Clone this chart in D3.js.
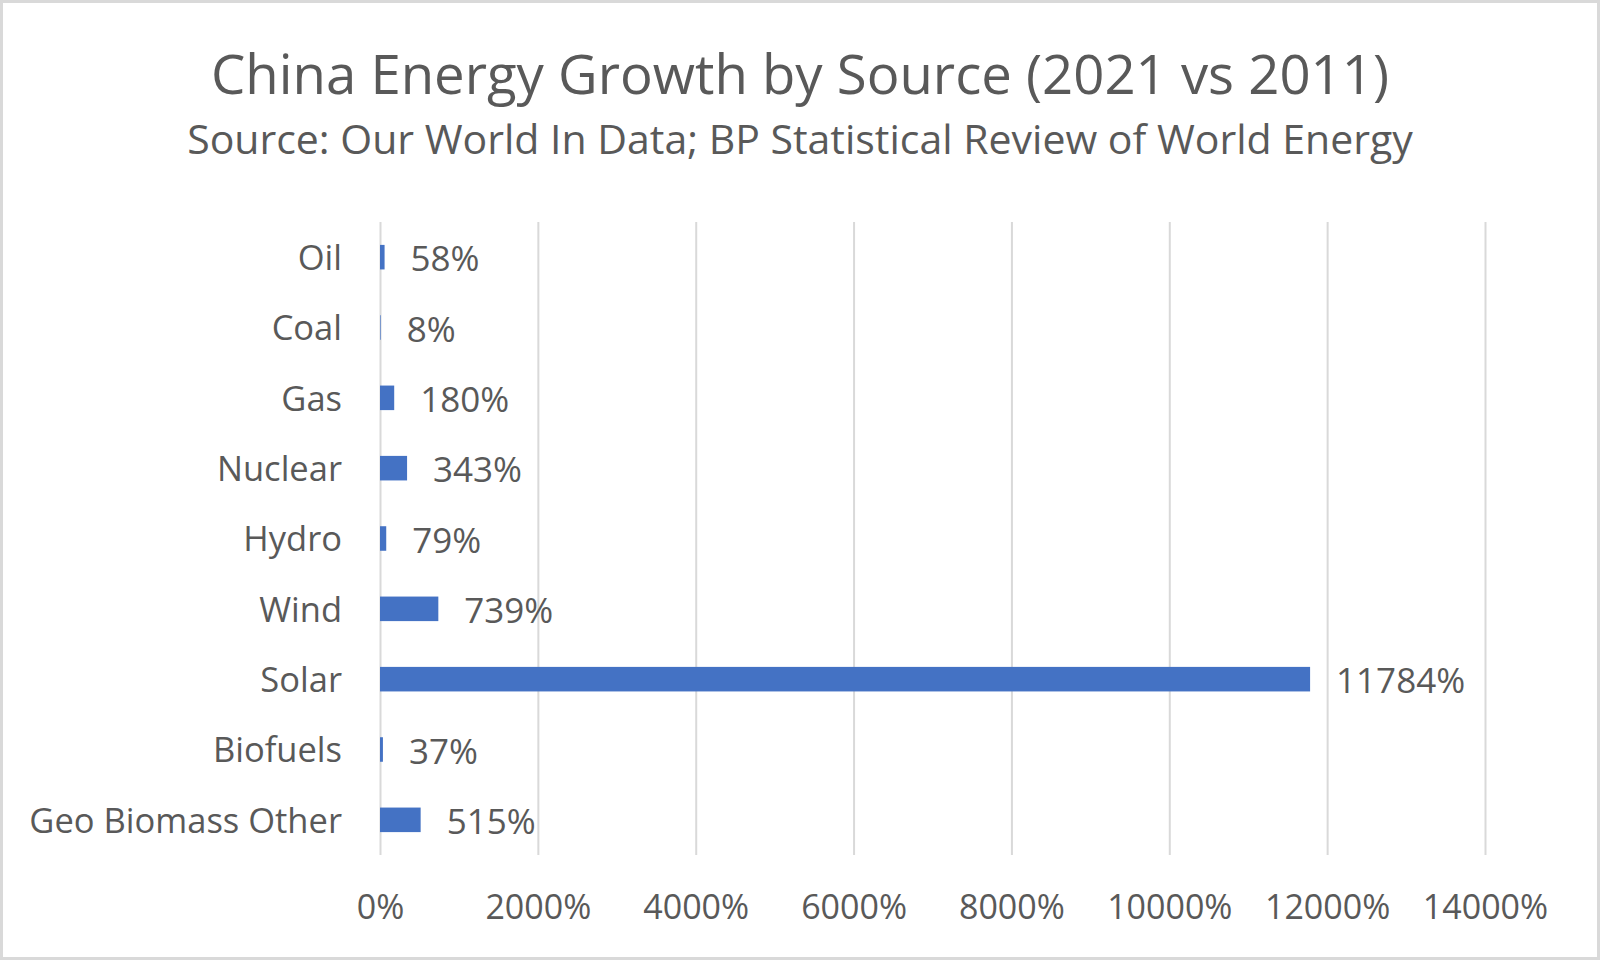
<!DOCTYPE html>
<meta charset="utf-8">
<style>
body { margin: 0; background: #fff; }
text { font-family: "Open Sans", sans-serif; fill: #595959; }
.axis .domain { display: none; }
.grid line { stroke: #d9d9d9; stroke-width: 2px; }
.bar { fill: #4472c4; }
</style>
<svg width="1600" height="960"></svg>
<script src="https://cdn.jsdelivr.net/npm/d3@7"></script>
<script>
var categories = ["Oil", "Coal", "Gas", "Nuclear", "Hydro", "Wind", "Solar", "Biofuels", "Geo Biomass Other"];
var growth = [58, 8, 180, 343, 79, 739, 11784, 37, 515];
var tickValues = [0, 2000, 4000, 6000, 8000, 10000, 12000, 14000];

var svg = d3.select("svg"),
    width = +svg.attr("width"),
    height = +svg.attr("height"),
    plot = {top: 222, bottom: 855, left: 380, right: 1485};

// outer frame
svg.append("rect")
    .attr("x", 1.5).attr("y", 1.5)
    .attr("width", width - 3).attr("height", height - 3)
    .attr("fill", "#fff")
    .attr("stroke", "#d9d9d9")
    .attr("stroke-width", 3);

svg.append("text")
    .attr("x", width / 2).attr("y", 94)
    .attr("text-anchor", "middle")
    .style("font-size", "54.5px")
    .text("China Energy Growth by Source (2021 vs 2011)");

svg.append("text")
    .attr("x", width / 2).attr("y", 154)
    .attr("text-anchor", "middle")
    .style("font-size", "41px")
    .text("Source: Our World In Data; BP Statistical Review of World Energy");

var x = d3.scaleLinear()
    .domain([0, 14000])
    .range([plot.left, plot.right]);

var y = d3.scaleBand()
    .domain(categories)
    .range([plot.top, plot.bottom])
    .paddingInner(0.651)
    .paddingOuter(0.3255);

// gridlines + value axis labels
svg.append("g")
    .attr("class", "axis grid")
    .attr("transform", "translate(0," + plot.bottom + ")")
    .call(d3.axisBottom(x)
        .tickValues(tickValues)
        .tickSize(-(plot.bottom - plot.top))
        .tickPadding(40)
        .tickFormat(function(d) { return d + "%"; }))
  .selectAll("text")
    .style("font-size", "34px")
    .attr("fill", null);

// category labels
var yAxis = svg.append("g")
    .attr("class", "axis")
    .attr("transform", "translate(" + plot.left + ",0)")
    .call(d3.axisLeft(y).tickSize(0).tickPadding(38));
yAxis.selectAll("line").remove();
yAxis.selectAll("text")
    .style("font-size", "34.5px")
    .attr("fill", null)
    .attr("dy", "0.37em");

var rows = categories.map(function(c, i) { return {name: c, value: growth[i]}; });

svg.append("g").selectAll("rect")
    .data(rows)
  .enter().append("rect")
    .attr("class", "bar")
    .attr("x", x(0))
    .attr("y", function(d) { return y(d.name); })
    .attr("width", function(d) { return x(d.value) - x(0); })
    .attr("height", y.bandwidth());

svg.append("g").selectAll("text")
    .data(rows)
  .enter().append("text")
    .attr("x", function(d) { return x(d.value) + 26; })
    .attr("y", function(d) { return y(d.name) + y.bandwidth() / 2; })
    .attr("dy", "0.4em")
    .style("font-size", "35px")
    .text(function(d) { return d.value + "%"; });
</script>
